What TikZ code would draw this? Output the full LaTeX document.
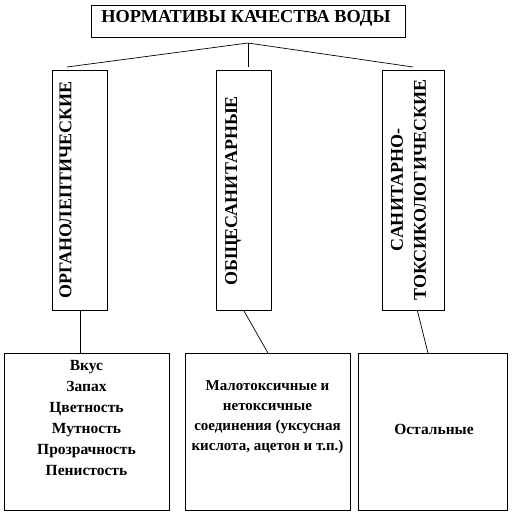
\documentclass[tikz,border=0pt]{standalone}
\usepackage{fontspec}
\setmainfont{Liberation Serif}
\begin{document}
\begin{tikzpicture}[x=1pt,y=-1pt,
  box/.style={draw, line width=0.9pt, inner sep=0pt, anchor=north west},
  conn/.style={draw, line width=0.7pt},
  txt/.style={font=\bfseries\fontsize{15.5}{21}\selectfont, align=center, inner sep=0pt},
  vtxt/.style={font=\bfseries\fontsize{18}{23}\selectfont, align=center, inner sep=0pt, rotate=90}]
\useasboundingbox (0,0) rectangle (532,515);
% title
\node[box, minimum width=314pt, minimum height=32pt] (title) at (91,5) {};
\node[font=\bfseries\fontsize{18.3}{22}\selectfont, inner sep=0pt] (tt) at (246,18) {НОРМАТИВЫ КАЧЕСТВА ВОДЫ};
\coordinate (j) at (248,43);
\coordinate (e1) at (67,67);
\coordinate (e2) at (248,67);
\coordinate (e3) at (413,67);
\draw[conn] (e1) -- (j) -- (e3);
\draw[conn] (j) -- (e2);
% vertical boxes
\node[box, minimum width=55pt, minimum height=240pt] (v1) at (52,70) {};
\node[box, minimum width=55pt, minimum height=240pt] (v2) at (216,70) {};
\node[box, minimum width=62pt, minimum height=240pt] (v3) at (382,70) {};
\node[vtxt] (v1t) at (65.5,190) {ОРГАНОЛЕПТИЧЕСКИЕ};
\node[vtxt] (v2t) at (233,191) {ОБЩЕСАНИТАРНЫЕ};
\node[vtxt] (v3t) at (408.5,190) {САНИТАРНО-\\ТОКСИКОЛОГИЧЕСКИЕ};
% bottom boxes
\node[box, minimum width=165pt, minimum height=157pt] (b1) at (4,353) {};
\node[box, minimum width=165pt, minimum height=157pt] (b2) at (185,353) {};
\node[box, minimum width=149pt, minimum height=157pt] (b3) at (358,353) {};
\node[txt] (b1t) at (86.5,417.5) {Вкус\\Запах\\Цветность\\Мутность\\Прозрачность\\Пенистость};
\node[txt, font=\bfseries\fontsize{15}{20}\selectfont] (b2t) at (267.5,417) {Малотоксичные и\\нетоксичные\\соединения (уксусная\\кислота, ацетон и т.п.)};
\node[txt] (b3t) at (434,429) {Остальные};
% connectors
\draw[conn] (v1.south) -- (b1.north -| v1.south);
\draw[conn] (v2.south) -- (b2.north);
\draw[conn] ([xshift=4pt]v3.south) -- ([xshift=-5pt]b3.north);
\end{tikzpicture}
\end{document}
